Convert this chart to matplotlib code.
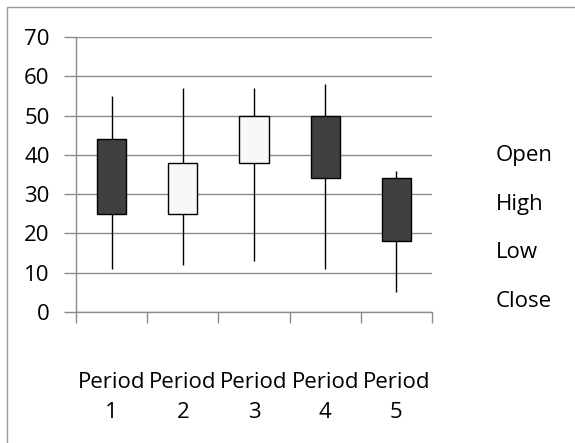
import matplotlib
matplotlib.use("Agg")
import matplotlib.pyplot as plt
import numpy as np
from matplotlib.patches import Rectangle
from matplotlib.lines import Line2D

categories = ["Period\n1", "Period\n2", "Period\n3", "Period\n4", "Period\n5"]
open_vals = [44, 25, 38, 50, 34]
high_vals = [55, 57, 57, 58, 36]
low_vals = [11, 12, 13, 11, 5]
close_vals = [25, 38, 50, 34, 18]
series_names = ["Open", "High", "Low", "Close"]
yticks = [0, 10, 20, 30, 40, 50, 60, 70]

plt.rcParams['font.family'] = ['Open Sans', 'DejaVu Sans']
FS = 16

fig = plt.figure(figsize=(5.75, 4.43), dpi=100)
ax = fig.add_axes([76/575, 1-312/443, (432-76)/575, (312-37)/443])

x = np.arange(1, len(categories) + 1)
o = np.array(open_vals); c = np.array(close_vals)
ax.vlines(x, low_vals, high_vals, color='black', lw=1.0, zorder=3)
colors = ['#404040' if cc < oo else '#f8f8f8' for oo, cc in zip(o, c)]
ax.bar(x, np.abs(c - o), bottom=np.minimum(o, c), width=0.41, color=colors,
       edgecolor='black', linewidth=1.0, zorder=4)

ax.set_xlim(0.5, 5.5)
ax.set_ylim(0, 70)
ax.set_yticks(yticks)
ax.set_yticklabels([str(v) for v in yticks], fontsize=FS)
ax.yaxis.grid(True, color='#8c8c8c', lw=1.0, zorder=0)
ax.set_axisbelow(True)

ax.set_xticks(np.arange(0.5, 6.0, 1.0))
ax.set_xticklabels([])
ax.set_xticks(x, minor=True)
ax.set_xticklabels(categories, minor=True, fontsize=FS, linespacing=1.6)
ax.tick_params(axis='x', which='minor', length=0, pad=43)
ax.tick_params(axis='x', which='major', length=8, width=1.0, color='#8c8c8c', direction='out')
ax.tick_params(axis='y', length=9, width=1.0, color='#8c8c8c', pad=10, labelcolor='black')

for s in ['top', 'right']:
    ax.spines[s].set_visible(False)
for s in ['left', 'bottom']:
    ax.spines[s].set_color('#8c8c8c')
    ax.spines[s].set_linewidth(1.0)

handles = [Line2D([], [], linestyle='none') for _ in series_names]
fig.legend(handles, series_names, loc='upper left', bbox_to_anchor=(476/575, 1-125/443),
           frameon=False, handlelength=0, handletextpad=0, labelspacing=1.24, fontsize=FS)

fig.patches.append(Rectangle((7/575, -0.1), 1.2, 1.1 - 7/443, transform=fig.transFigure,
                             fill=False, edgecolor='#9a9a9a', lw=1.0))

fig.savefig("out.png", dpi=100)
